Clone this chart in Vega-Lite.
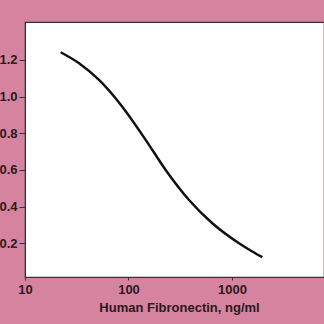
{
  "$schema": "https://vega.github.io/schema/vega-lite/v6.json",
  "autosize": {"type": "none"},
  "padding": {"left": 25, "top": 22, "right": 0, "bottom": 47},
  "width": 299,
  "height": 255,
  "background": "#d6839f",
  "config": {
    "view": {"fill": "white", "stroke": "#3a3030", "strokeWidth": 1.2},
    "axis": {
      "labelFont": "Liberation Sans",
      "titleFont": "Liberation Sans",
      "labelFontWeight": "bold",
      "titleFontWeight": "bold",
      "labelFontSize": 13,
      "titleFontSize": 13,
      "labelColor": "#2a1a20",
      "titleColor": "#2a1a20",
      "domainColor": "#3a3030",
      "tickColor": "#3a3030",
      "grid": false
    }
  },
  "data": {
    "values": [
      {"conc": 22.1, "od": 1.242},
      {"conc": 33.3, "od": 1.182},
      {"conc": 51.9, "od": 1.091},
      {"conc": 87.1, "od": 0.945},
      {"conc": 146.5, "od": 0.764},
      {"conc": 228.6, "od": 0.6},
      {"conc": 384.6, "od": 0.436},
      {"conc": 645.7, "od": 0.309},
      {"conc": 1169, "od": 0.2},
      {"conc": 1570, "od": 0.155},
      {"conc": 1964, "od": 0.124}
    ]
  },
  "mark": {"type": "line", "color": "#111111", "strokeWidth": 2.5, "interpolate": "monotone", "clip": true},
  "encoding": {
    "x": {
      "field": "conc",
      "type": "quantitative",
      "scale": {"type": "log", "domain": [10, 7745], "nice": false},
      "axis": {
        "values": [10, 100, 1000],
        "format": "d",
        "tickSize": 3,
        "labelPadding": 3,
        "title": "Human Fibronectin, ng/ml",
        "titlePadding": 5,
        "titleX": 154,
        "labelFlush": false
      }
    },
    "y": {
      "field": "od",
      "type": "quantitative",
      "scale": {"domain": [0.016, 1.407], "nice": false, "zero": false},
      "axis": {
        "values": [0.2, 0.4, 0.6, 0.8, 1.0, 1.2],
        "format": ".1f",
        "tickSize": 6,
        "labelPadding": 2,
        "title": null
      }
    }
  }
}
